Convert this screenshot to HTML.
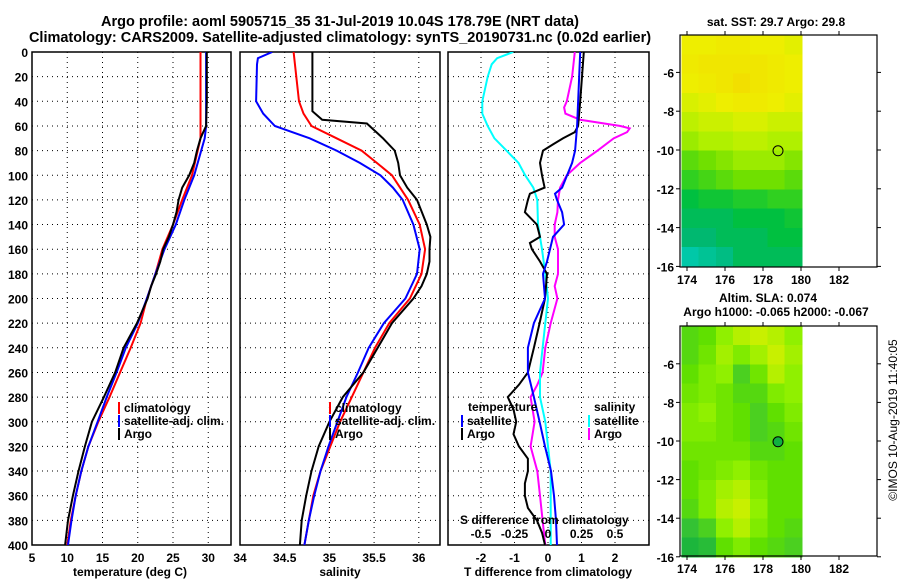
<!DOCTYPE html>
<html><head><meta charset="utf-8"><style>
html,body{margin:0;padding:0;background:#fff;}
svg{display:block;font-family:"Liberation Sans",sans-serif;font-weight:bold;}
</style></head><body>
<svg id="chart" width="900" height="580" viewBox="0 0 900 580">
<text x="340" y="26" font-size="14.5" text-anchor="middle">Argo profile: aoml 5905715_35 31-Jul-2019 10.04S 178.79E (NRT data)</text>
<text x="340" y="42" font-size="14.5" text-anchor="middle">Climatology: CARS2009. Satellite-adjusted climatology: synTS_20190731.nc (0.02d earlier)</text>
<text x="776" y="26" font-size="12" text-anchor="middle">sat. SST: 29.7 Argo: 29.8</text>
<text x="768" y="302" font-size="12" text-anchor="middle">Altim. SLA: 0.074</text>
<text x="776" y="316" font-size="12" text-anchor="middle">Argo h1000: -0.065 h2000: -0.067</text>
<text transform="translate(897,420) rotate(-90)" font-size="12" font-weight="normal" text-anchor="middle">©IMOS 10-Aug-2019 11:40:05</text>
<g id="layer"></g>
</svg>
<script>
// ---- data ----
const depthTicks=[0,20,40,60,80,100,120,140,160,180,200,220,240,260,280,300,320,340,360,380,400];
const tTickLabels=[5,10,15,20,25,30];
const sTickLabels=[34,34.5,35,35.5,36];
const dTickLabels=[-2,-1,0,1,2];
const sdTickLabels=[-0.5,-0.25,0,0.25,0.5];
const lonTicks=[174,176,178,180,182];
const latTicks1=[-6,-8,-10,-12,-14,-16];

const tempDepth=[0,20,40,60,65,70,80,90,100,110,120,130,140,150,160,170,180,190,200,220,240,260,280,300,320,340,360,380,400];
const tempArgo=[29.8,29.8,29.8,29.7,29.3,28.9,28.4,28.0,27.3,26.3,25.8,25.5,25.0,24.4,23.6,23.2,22.6,21.9,21.4,19.9,18.0,16.8,15.2,13.5,12.5,11.6,10.8,10.1,9.7];
const tempClimDepth=[0,70,80,100,120,140,160,180,200,220,240,260,280,300,320,340,360,380,400];
const tempClim=[28.9,28.9,28.5,27.7,26.3,25.0,23.5,22.5,21.3,20.4,19.0,17.5,16.0,14.4,13.0,12.0,11.2,10.5,10.0];
const tempSatDepth=[0,60,70,80,100,120,140,160,180,200,220,240,260,280,300,320,340,360,380,400];
const tempSat=[29.7,29.7,29.5,29.0,28.0,26.6,25.4,23.8,22.5,21.3,20.0,18.3,17.0,15.6,14.3,13.0,12.0,11.2,10.6,10.1];

const salDepth=[0,48,55,58,60,70,80,90,100,110,120,140,150,160,170,180,190,200,220,240,260,280,300,320,340,360,380,400];
const salArgo=[34.81,34.81,34.92,35.42,35.45,35.6,35.73,35.77,35.79,35.87,35.98,36.09,36.13,36.12,36.12,36.09,36.03,35.94,35.70,35.54,35.38,35.15,35.0,34.88,34.80,34.74,34.69,34.67];
const salClimDepth=[0,20,40,50,60,70,80,90,100,120,140,160,180,200,220,240,260,280,300,320,340,360,380,400];
const salClim=[34.6,34.63,34.66,34.71,34.8,35.08,35.36,35.53,35.7,35.88,36.01,36.07,36.03,35.9,35.67,35.51,35.38,35.25,35.12,35.01,34.9,34.82,34.77,34.72];
const salSatDepth=[0,5,10,40,50,60,70,80,90,100,110,120,140,160,180,200,220,240,260,280,300,320,340,360,380,400];
const salSat=[34.36,34.2,34.19,34.18,34.26,34.39,34.78,35.08,35.34,35.57,35.71,35.82,35.94,36.01,35.98,35.85,35.61,35.44,35.32,35.19,35.09,34.99,34.9,34.83,34.77,34.72];

const tdDepth=[0,40,60,65,70,75,80,90,100,110,115,120,130,140,150,155,160,170,180,200,220,240,260,270,280,290,300,310,320,330,340,350,360,370,380,390,400];
const tdArgo=[1.07,0.96,0.9,0.8,0.45,0.15,-0.15,-0.24,-0.18,-0.1,-0.54,-0.6,-0.69,-0.33,-0.24,-0.54,-0.48,-0.24,-0.03,-0.09,-0.25,-0.42,-0.6,-0.87,-1.2,-1.03,-0.95,-1.03,-0.87,-0.6,-0.6,-0.69,-0.69,-0.6,-0.33,-0.18,-0.09];
const tdSatDepth=[0,60,80,90,100,110,115,120,130,140,150,160,170,180,200,220,240,260,280,300,320,340,360,380,400];
const tdSat=[0.96,0.87,0.81,0.72,0.57,0.42,0.21,0.27,0.42,0.48,0.15,0.06,-0.03,-0.15,-0.09,-0.42,-0.6,-0.6,-0.42,-0.25,-0.09,0.09,0.18,0.24,0.27];
const sdArgoDepth=[0,20,40,45,50,55,60,62,65,70,80,90,100,110,120,130,140,150,160,170,180,190,200,220,240,260,270,280,300,320,340,360,380,400];
const sdArgo=[0.2,0.18,0.14,0.12,0.13,0.24,0.54,0.61,0.59,0.49,0.37,0.24,0.14,0.09,0.075,0.07,0.05,0.05,0.075,0.075,0.075,0.05,0.07,0.02,-0.02,-0.04,-0.08,-0.13,-0.1,-0.13,-0.08,-0.06,-0.04,-0.02];
const sdSatDepth=[0,5,10,20,40,50,60,70,80,90,100,110,120,140,160,180,200,220,240,260,280,300,320,340,360,380,400];
const sdSat=[-0.26,-0.38,-0.42,-0.45,-0.49,-0.49,-0.45,-0.4,-0.31,-0.22,-0.17,-0.11,-0.08,-0.075,-0.045,-0.02,0,-0.02,-0.04,-0.06,-0.06,-0.02,0,0.02,0.02,0.02,0.02];

const sstGrid=[
[29.5,29.5,29.6,29.6,29.5,29.5,29.4],
[29.6,29.7,29.7,29.7,29.7,29.6,29.5],
[29.5,29.6,29.7,29.8,29.7,29.6,29.5],
[29.3,29.4,29.5,29.6,29.6,29.5,29.4],
[29.1,29.2,29.2,29.3,29.3,29.2,29.2],
[28.9,29.0,29.0,29.1,29.1,29.0,29.0],
[28.6,28.7,28.8,28.9,28.9,28.9,28.8],
[28.4,28.5,28.6,28.7,28.7,28.7,28.6],
[28.1,28.2,28.2,28.3,28.3,28.4,28.4],
[28.0,28.0,28.0,28.1,28.1,28.1,28.2],
[27.9,27.9,28.0,28.0,28.0,28.1,28.1],
[27.6,27.7,27.8,28.0,28.0,28.0,28.0]];
const slaGrid=[
[.06,.07,.10,.12,.13,.12,.10],
[.06,.08,.11,.09,.11,.13,.11],
[.07,.09,.10,.05,.08,.12,.10],
[.08,.09,.08,.06,.06,.09,.10],
[.09,.10,.08,.07,.05,.07,.09],
[.09,.09,.08,.07,.05,.06,.08],
[.08,.08,.08,.08,.06,.06,.07],
[.07,.08,.09,.10,.08,.07,.07],
[.07,.09,.11,.12,.09,.07,.07],
[.06,.09,.12,.13,.10,.07,.07],
[.03,.05,.10,.12,.09,.07,.06],
[.01,.02,.07,.09,.07,.06,.05]];
const argoLon=178.79, argoLat=-10.04;

// ---- helpers ----
const NS="http://www.w3.org/2000/svg";
const layer=document.getElementById('layer');
function mk(tag,attrs,parent){const e=document.createElementNS(NS,tag);for(const k in attrs)e.setAttribute(k,attrs[k]);(parent||layer).appendChild(e);return e;}
const Y0=52,Y1=545;
const yD=d=>Y0+d*(Y1-Y0)/400;
const xT=t=>32+(t-5)*7.05;
const xS=s=>240+(s-34)*89.4;
const xD=v=>548+v*33.5;
const xSD=v=>548+v*4*33.5;
function panel(name,x0,x1,gridXs){
  const g=mk('g',{});
  
  
  const cp=mk('clipPath',{id:'clip-'+name},g);
  mk('rect',{x:x0,y:Y0,width:x1-x0,height:Y1-Y0},cp);
  depthTicks.forEach(d=>{if(d>0&&d<400){const l=mk('line',{x1:x0,x2:x1,y1:yD(d),y2:yD(d),stroke:'#000','stroke-width':1,'stroke-dasharray':'1,4'},g);}});
  gridXs.forEach(x=>{const l=mk('line',{x1:x,x2:x,y1:Y0,y2:Y1,stroke:'#000','stroke-width':1,'stroke-dasharray':'1,4'},g);});
  const r=mk('rect',{x:x0,y:Y0,width:x1-x0,height:Y1-Y0,fill:'none',stroke:'#000','stroke-width':1.5},g);
  
  
  return g;
}
function line(g,name,xs,ds,fx,color,w,clip){
  const pts=xs.map((v,i)=>fx(v).toFixed(1)+','+yD(ds[i]).toFixed(1)).join(' ');
  const p=mk('polyline',{points:pts,fill:'none',stroke:color,'stroke-width':w,'clip-path':'url(#clip-'+clip+')'},g);
  
  
}
function txt(g,name,x,y,s,size,anchor,fill){
  const t=mk('text',{x:x,y:y,'font-size':size||12,'text-anchor':anchor||'start',fill:fill||'#000'},g);
  t.textContent=s;
  
  
  return t;
}
function legendBar(g,name,x,y,color){
  const r=mk('rect',{x:x,y:y-10,width:2,height:12,fill:color},g);
  
  
}

// ---- panel 1: temperature ----
const p1=panel('temperature-panel',32,231,tTickLabels.slice(1).map(xT));
depthTicks.forEach(d=>txt(p1,'y-tick-label',28,yD(d)+5,String(d),12,'end'));
tTickLabels.forEach(t=>txt(p1,'x-tick-label',xT(t),562,String(t),12,'middle'));
txt(p1,'x-axis-title',130,576,'temperature (deg C)',12,'middle');
line(p1,'temp-climatology-line',tempClim,tempClimDepth,xT,'#f00',2,'temperature-panel');
line(p1,'temp-satellite-line',tempSat,tempSatDepth,xT,'#00f',2,'temperature-panel');
line(p1,'temp-argo-line',tempArgo,tempDepth,xT,'#000',2,'temperature-panel');
legendBar(p1,'legend-climatology-swatch',118,412,'#f00');txt(p1,'legend-climatology',124,412,'climatology',12);
legendBar(p1,'legend-satellite-swatch',118,425,'#00f');txt(p1,'legend-satellite',124,425,'satellite-adj. clim.',12);
legendBar(p1,'legend-argo-swatch',118,438,'#000');txt(p1,'legend-argo',124,438,'Argo',12);

// ---- panel 2: salinity ----
const p2=panel('salinity-panel',240,440,sTickLabels.slice(1).map(xS));
sTickLabels.forEach(s=>txt(p2,'x-tick-label',xS(s),562,String(s),12,'middle'));
txt(p2,'x-axis-title',340,576,'salinity',12,'middle');
line(p2,'sal-climatology-line',salClim,salClimDepth,xS,'#f00',2,'salinity-panel');
line(p2,'sal-satellite-line',salSat,salSatDepth,xS,'#00f',2,'salinity-panel');
line(p2,'sal-argo-line',salArgo,salDepth,xS,'#000',2,'salinity-panel');
legendBar(p2,'legend-climatology-swatch',329,412,'#f00');txt(p2,'legend-climatology',335,412,'climatology',12);
legendBar(p2,'legend-satellite-swatch',329,425,'#00f');txt(p2,'legend-satellite',335,425,'satellite-adj. clim.',12);
legendBar(p2,'legend-argo-swatch',329,438,'#000');txt(p2,'legend-argo',335,438,'Argo',12);

// ---- panel 3: differences ----
const p3=panel('difference-panel',448,649,dTickLabels.map(xD));
dTickLabels.forEach(v=>txt(p3,'x-tick-label',xD(v),562,String(v),12,'middle'));
txt(p3,'x-axis-title',548,576,'T difference from climatology',12,'middle');
line(p3,'sdiff-argo-line',sdArgo,sdArgoDepth,xSD,'#f0f',2,'difference-panel');
line(p3,'sdiff-satellite-line',sdSat,sdSatDepth,xSD,'#0ff',2,'difference-panel');
line(p3,'tdiff-argo-line',tdArgo,tdDepth,xD,'#000',2,'difference-panel');
line(p3,'tdiff-satellite-line',tdSat,tdSatDepth,xD,'#00f',2,'difference-panel');
txt(p3,'legend-temperature-heading',468,411,'temperature',12);
legendBar(p3,'legend-t-satellite-swatch',461,425,'#00f');txt(p3,'legend-t-satellite',467,425,'satellite',12);
legendBar(p3,'legend-t-argo-swatch',461,438,'#000');txt(p3,'legend-t-argo',467,438,'Argo',12);
txt(p3,'legend-salinity-heading',594,411,'salinity',12);
legendBar(p3,'legend-s-satellite-swatch',588,425,'#0ff');txt(p3,'legend-s-satellite',594,425,'satellite',12);
legendBar(p3,'legend-s-argo-swatch',588,438,'#f0f');txt(p3,'legend-s-argo',594,438,'Argo',12);
txt(p3,'s-axis-title',460,524,'S difference from climatology',12);
sdTickLabels.forEach(v=>txt(p3,'s-tick-label',xSD(v),538,String(v),12,'middle'));

// ---- maps ----
function lerpColor(stops,v){
  if(v<=stops[0][0])return stops[0][1];
  for(let i=1;i<stops.length;i++){if(v<=stops[i][0]){const a=stops[i-1],b=stops[i],f=(v-a[0])/(b[0]-a[0]);
    const ca=a[1].match(/\w\w/g).map(h=>parseInt(h,16)),cb=b[1].match(/\w\w/g).map(h=>parseInt(h,16));
    return 'rgb('+ca.map((c,k)=>Math.round(c+(cb[k]-c)*f)).join(',')+')';}}
  return stops[stops.length-1][1];
}
const sstStops=[[27.6,'#00c8a8'],[27.9,'#00b870'],[28.1,'#00c040'],[28.4,'#30d020'],[28.7,'#70e000'],[29.0,'#b0f000'],[29.3,'#d8f000'],[29.5,'#eeee00'],[29.7,'#f0e600'],[29.9,'#f4d800']];
const slaStops=[[0,'#10b040'],[0.04,'#40c830'],[0.07,'#60e000'],[0.10,'#90f000'],[0.13,'#c8f000']];
function map(name,top,bottom,latRef,latScale,grid,stops,markerFill){
  const g=mk('g',{});
  
  
  const lonX=l=>687+(l-174)*19;
  const latY=l=>latRef+(-10-l)*latScale;
  const topLat=-10-(top-latRef)/latScale;
  const rows=grid.length,cols=grid[0].length;
  const lonEdge=[173.7,180.05];
  const dl=(lonEdge[1]-lonEdge[0])/cols, dlat=(-16-topLat)/rows;
  grid.forEach((row,i)=>row.forEach((v,j)=>{
    const x=lonX(lonEdge[0]+j*dl),y=latY(topLat+i*dlat);
    const c=mk('rect',{x:x.toFixed(1),y:y.toFixed(1),width:(lonX(lonEdge[0]+(j+1)*dl)-x+0.5).toFixed(1),height:(latY(topLat+(i+1)*dlat)-y+0.5).toFixed(1),fill:lerpColor(stops,v),'shape-rendering':'crispEdges'},g);
    
    
  }));
  const f=mk('rect',{x:680,y:top,width:197,height:bottom-top,fill:'none',stroke:'#000','stroke-width':1.2},g);
  
  
  lonTicks.forEach(l=>{
    mk('line',{x1:lonX(l),x2:lonX(l),y1:bottom,y2:bottom+4,stroke:'#000'},g);
    mk('line',{x1:lonX(l),x2:lonX(l),y1:top,y2:top-4,stroke:'#000'},g);
    txt(g,'lon-tick-label',lonX(l),bottom+17,String(l),12,'middle');
  });
  latTicks1.forEach(l=>{
    mk('line',{x1:676,x2:680,y1:latY(l),y2:latY(l),stroke:'#000'},g);
    mk('line',{x1:877,x2:881,y1:latY(l),y2:latY(l),stroke:'#000'},g);
    txt(g,'lat-tick-label',674,latY(l)+5,String(l),12,'end');
  });
  const m=mk('circle',{cx:lonX(argoLon),cy:latY(argoLat),r:5,fill:markerFill,stroke:'#000','stroke-width':1},g);
  
  
}
map('sst-map',35,267,150,19.4,sstGrid,sstStops,'none');
map('sla-map',326,556,441,19.3,slaGrid,slaStops,'#10b040');
</script>
</body></html>
